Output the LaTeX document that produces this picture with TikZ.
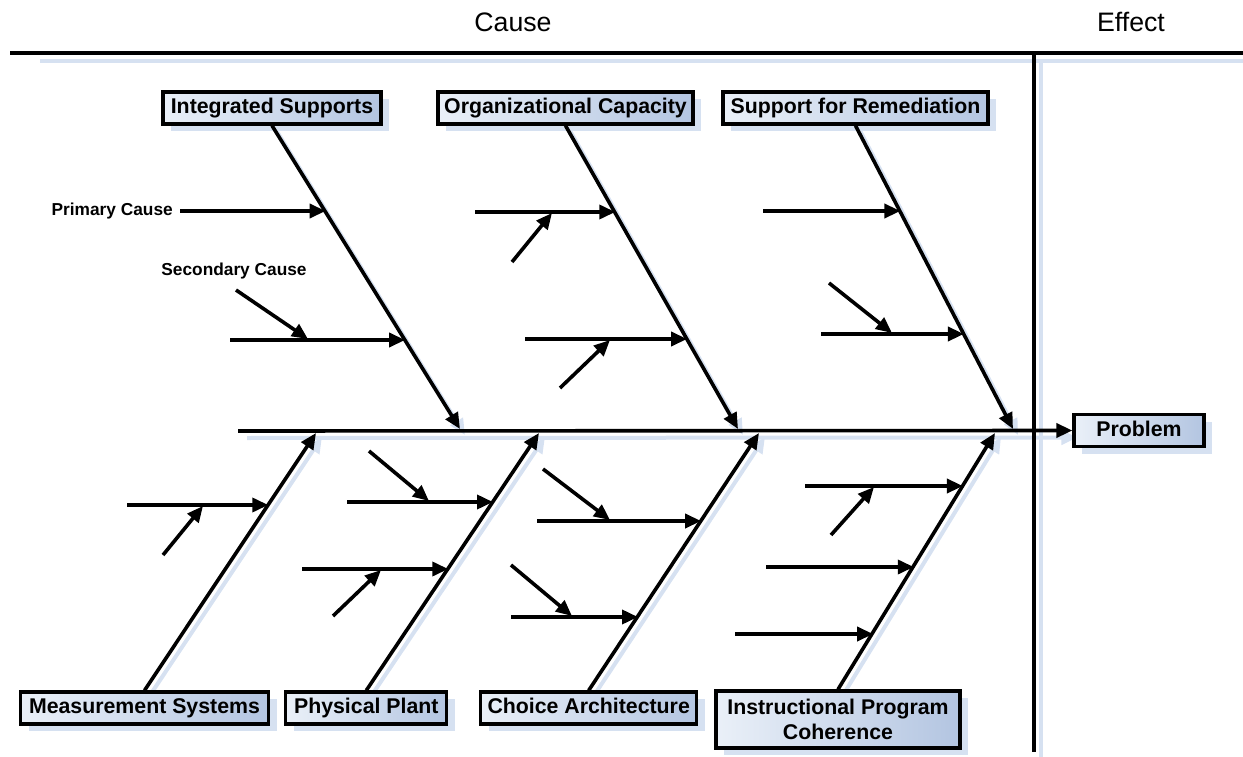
\documentclass[tikz,border=0pt]{standalone}
\usepackage{fontspec}
\setmainfont{Liberation Sans}
\usetikzlibrary{arrows.meta,calc,shadows}
\definecolor{shd}{HTML}{D6E1F1}
\definecolor{boxl}{HTML}{EAF0F8}
\definecolor{boxr}{HTML}{B3C5E1}
\pgfdeclarelayer{bg}
\pgfsetlayers{bg,main}
\begin{document}
\begin{tikzpicture}[x=1pt,y=-1pt,
  catbox/.style={draw=black,line width=3.2pt,left color=boxl,right color=boxr,
    font=\fontsize{21.3}{25}\selectfont\bfseries,inner sep=0pt,align=center,
    minimum height=32pt,text height=15.5pt,text depth=4.5pt,
    drop shadow={shadow xshift=8pt,shadow yshift=-7pt,fill=shd,opacity=1}},
  bone/.style={line width=3.6pt,-{Triangle[length=16pt,width=14pt]}},
  causearrow/.style={line width=3.6pt,-{Triangle[length=16pt,width=14pt]}},
  shdbone/.style={draw=shd,line width=4pt,-{Triangle[length=16pt,width=14pt,fill=shd]}},
  shdline/.style={draw=shd,line width=4pt},
  title/.style={font=\fontsize{26.7}{30}\selectfont},
  small/.style={font=\fontsize{17.3}{20}\selectfont\bfseries,inner sep=0pt}
]
\useasboundingbox (0,0) rectangle (1243,757);

% titles
\node[title] (cause) at (513,22) {Cause};
\node[title] (effect) at (1131,22) {Effect};

% category boxes
\node[catbox,minimum width=218pt] (IS) at (272,108) {Integrated Supports};
\node[catbox,minimum width=255pt] (OC) at (565.5,108) {Organizational Capacity};
\node[catbox,minimum width=265pt] (SR) at (855.5,108) {Support for Remediation};
\node[catbox,minimum width=248pt] (MS) at (144.5,708) {Measurement Systems};
\node[catbox,minimum width=161pt] (PP) at (366.3,708) {Physical Plant};
\node[catbox,minimum width=216pt] (CA) at (588.7,708) {Choice Architecture};
\node[catbox,minimum width=244pt,minimum height=57pt,text height=,text depth=] (IPC) at (838,719.5) {Instructional Program\\Coherence};
\node[catbox,minimum width=130pt] (PB) at (1139,430.5) {Problem};

% frame lines
\coordinate (tl0) at (10,53);
\coordinate (tl1) at (1243,53);
\coordinate (tls0) at (40,61);
\coordinate (tls1) at (1243,61);
\coordinate (vl0) at (1034,53);
\coordinate (vl1) at (1034,752);
\coordinate (vls0) at (1041,60);
\coordinate (vls1) at (1041,757);
\coordinate (sp0) at (238,431);

% bone ends
\coordinate (isE) at (460,429);
\coordinate (ocE) at (738,429);
\coordinate (srE) at (1013,429);
\coordinate (msE) at (316,433);
\coordinate (ppE) at (539,433);
\coordinate (caE) at (759,433);
\coordinate (ipE) at (995,433);

\begin{pgfonlayer}{bg}
  \draw[shdline] (tls0) -- (tls1);
  \draw[shdline] (vls0) -- (vls1);
  \draw[shdbone] ($(sp0)+(9,7)$) -- ($(PB.west)+(5,7)$);
  \foreach \b/\e in {IS/isE,OC/ocE,SR/srE}
    \draw[shdbone] ($(\b.south)+(5,6)$) -- ($(\e)+(5,6)$);
  \foreach \b/\e in {MS/msE,PP/ppE,CA/caE,IPC/ipE}
    \draw[shdbone] ($(\b.north)+(6,4)$) -- ($(\e)+(6,4)$);
\end{pgfonlayer}

\draw[line width=4pt] (tl0) -- (tl1);
\draw[line width=3.6pt] (vl0) -- (vl1);
\draw[bone] (sp0) -- (PB.west);

\draw[bone] (IS.south) -- (isE);
\draw[bone] (OC.south) -- (ocE);
\draw[bone] (SR.south) -- (srE);
\draw[bone] (MS.north) -- (msE);
\draw[bone] (PP.north) -- (ppE);
\draw[bone] (CA.north) -- (caE);
\draw[bone] (IPC.north) -- (ipE);

% legend labels
\node[small,anchor=east] (pc) at (173,211) {Primary Cause};
\node[small] (sc) at (234,271) {Secondary Cause};

% Integrated Supports causes
\coordinate (is1t) at (325.6,211);
\coordinate (is2s) at (230,340);
\coordinate (is2t) at (405.1,340);
\coordinate (is2as) at (236,290);
\coordinate (is2at) at (308,339);
\draw[causearrow] (pc.east) ++(7,0) -- (is1t);
\draw[causearrow] (is2s) -- (is2t);
\draw[causearrow] (is2as) -- (is2at);

% Organizational Capacity causes
\coordinate (oc1s) at (475,212);
\coordinate (oc1t) at (615.3,212);
\coordinate (oc1as) at (512,262);
\coordinate (oc1at) at (552,213);
\coordinate (oc2s) at (525,339);
\coordinate (oc2t) at (687.1,339);
\coordinate (oc2as) at (560,388);
\coordinate (oc2at) at (610,340);
\draw[causearrow] (oc1s) -- (oc1t);
\draw[causearrow] (oc1as) -- (oc1at);
\draw[causearrow] (oc2s) -- (oc2t);
\draw[causearrow] (oc2as) -- (oc2at);

% Support for Remediation causes
\coordinate (sr1s) at (763,211);
\coordinate (sr1t) at (900.4,211);
\coordinate (sr2s) at (821,334);
\coordinate (sr2t) at (963.9,334);
\coordinate (sr2as) at (829,283);
\coordinate (sr2at) at (892,333);
\draw[causearrow] (sr1s) -- (sr1t);
\draw[causearrow] (sr2s) -- (sr2t);
\draw[causearrow] (sr2as) -- (sr2at);

% Measurement Systems causes
\coordinate (ms1s) at (127,505);
\coordinate (ms1t) at (268.3,505);
\coordinate (ms1as) at (163,555);
\coordinate (ms1at) at (203,506);
\draw[causearrow] (ms1s) -- (ms1t);
\draw[causearrow] (ms1as) -- (ms1at);

% Physical Plant causes
\coordinate (pp1s) at (347,502);
\coordinate (pp1t) at (493,502);
\coordinate (pp1as) at (369,451);
\coordinate (pp1at) at (429,501);
\coordinate (pp2s) at (302,569);
\coordinate (pp2t) at (448.3,569);
\coordinate (pp2as) at (333,616);
\coordinate (pp2at) at (381,570);
\draw[causearrow] (pp1s) -- (pp1t);
\draw[causearrow] (pp1as) -- (pp1at);
\draw[causearrow] (pp2s) -- (pp2t);
\draw[causearrow] (pp2as) -- (pp2at);

% Choice Architecture causes
\coordinate (ca1s) at (537,521);
\coordinate (ca1t) at (701.1,521);
\coordinate (ca1as) at (543,469);
\coordinate (ca1at) at (610,520);
\coordinate (ca2s) at (511,617);
\coordinate (ca2t) at (638,617);
\coordinate (ca2as) at (511,565);
\coordinate (ca2at) at (572,616);
\draw[causearrow] (ca1s) -- (ca1t);
\draw[causearrow] (ca1as) -- (ca1at);
\draw[causearrow] (ca2s) -- (ca2t);
\draw[causearrow] (ca2as) -- (ca2at);

% Instructional Program Coherence causes
\coordinate (ip1s) at (805,486);
\coordinate (ip1t) at (962.9,486);
\coordinate (ip1as) at (831,535);
\coordinate (ip1at) at (874,487);
\coordinate (ip2s) at (766,567);
\coordinate (ip2t) at (913.8,567);
\coordinate (ip3s) at (735,634);
\coordinate (ip3t) at (873.1,634);
\draw[causearrow] (ip1s) -- (ip1t);
\draw[causearrow] (ip1as) -- (ip1at);
\draw[causearrow] (ip2s) -- (ip2t);
\draw[causearrow] (ip3s) -- (ip3t);
\end{tikzpicture}
\end{document}
